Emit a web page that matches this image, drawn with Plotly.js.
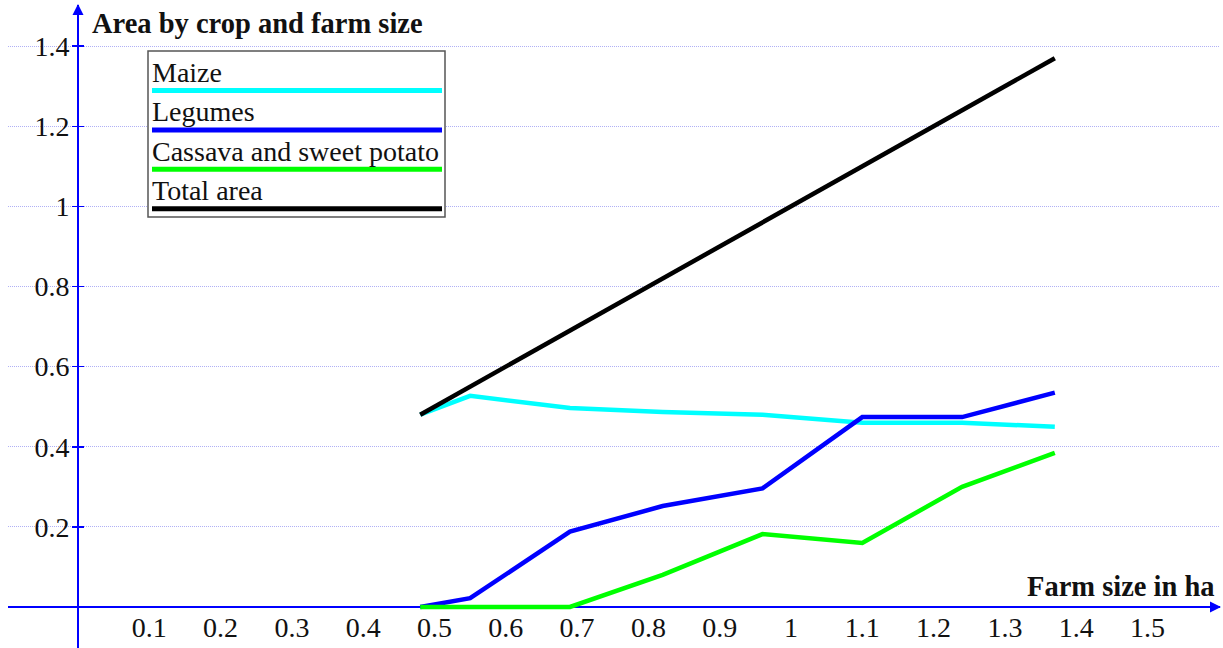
<!DOCTYPE html>
<html>
<head>
<meta charset="utf-8">
<script src="https://cdn.plot.ly/plotly-3.0.1.min.js"></script>
<style>
html,body{margin:0;padding:0;background:#fff;}
#chart{width:1223px;height:648px;}
</style>
</head>
<body>
<div id="chart"></div>
<script>
// ---- data ----
const farmSize = [0.48, 0.55, 0.69, 0.82, 0.96, 1.10, 1.24, 1.37];
const maize    = [0.48, 0.527, 0.497, 0.487, 0.48, 0.46, 0.46, 0.45];
const legumes  = [0.0, 0.022, 0.188, 0.252, 0.296, 0.474, 0.474, 0.535];
const cassava  = [0.0, 0.0, 0.0, 0.08, 0.182, 0.16, 0.30, 0.385];
const total    = [0.48, 0.55, 0.69, 0.82, 0.96, 1.10, 1.24, 1.37];
const seriesNames = ["Maize", "Legumes", "Cassava and sweet potato", "Total area"];
const seriesColors = ["#00ffff", "#0000ff", "#00ff00", "#000000"];
const xTicks = [0.1,0.2,0.3,0.4,0.5,0.6,0.7,0.8,0.9,1,1.1,1.2,1.3,1.4,1.5];
const xTickText = ["0.1","0.2","0.3","0.4","0.5","0.6","0.7","0.8","0.9","1","1.1","1.2","1.3","1.4","1.5"];
const yTicks = [0.2,0.4,0.6,0.8,1,1.2,1.4];
const yTickText = ["0.2","0.4","0.6","0.8","1","1.2","1.4"];
const chartTitle = "Area by crop and farm size";
const xTitle = "Farm size in ha";

// ---- layout geometry ----
const W = 1223, H = 648;
const M = {l: 8, r: 3, t: 5, b: 0};
const PW = W - M.l - M.r, PH = H - M.t - M.b;
const px = p => (p - M.l) / PW;          // page pixel -> paper x
const py = p => 1 - (p - M.t) / PH;      // page pixel -> paper y
const X0 = 78, Y0 = 607, XS = 713, YS = 400.6;
const xRange = [(M.l - X0) / XS, (W - M.r - X0) / XS];
const yRange = [-(H - M.b - Y0) / YS, (Y0 - M.t) / YS];

const FONT = '"Liberation Serif", "Times New Roman", serif';
const AX = '#0000ff';

const ys = [maize, legumes, cassava, total];
const traces = ys.map((v, i) => ({
  type: 'scatter', mode: 'lines', x: farmSize, y: v, name: seriesNames[i],
  line: {color: seriesColors[i], width: 4.5}, showlegend: false, hoverinfo: 'skip'
}));
traces.push({type: 'scatter', mode: 'lines', x: [], y: [], yaxis: 'y2', showlegend: false});

// legend built from shapes + text
const legLeft = 148, legTop = 51, legRight = 445, legBottom = 217;
const shapes = [{
  type: 'rect', xref: 'paper', yref: 'paper',
  x0: px(legLeft), x1: px(legRight), y0: py(legBottom), y1: py(legTop),
  line: {color: '#555555', width: 1.5}, fillcolor: '#ffffff', layer: 'above'
}];
const annotations = [];
seriesNames.forEach((n, i) => {
  const lineY = 90.5 + i * 39.4;
  shapes.push({type: 'line', xref: 'paper', yref: 'paper',
    x0: px(152), x1: px(442), y0: py(lineY), y1: py(lineY),
    line: {color: seriesColors[i], width: 5}, layer: 'above'});
  annotations.push({xref: 'paper', yref: 'paper', x: px(150), y: py(lineY - 18),
    xanchor: 'left', yanchor: 'middle', showarrow: false, text: n,
    font: {family: FONT, size: 28, color: '#111'}});
});
// title
annotations.push({xref: 'paper', yref: 'paper', x: px(90), y: py(23), xanchor: 'left', yanchor: 'middle',
  showarrow: false, text: '<b>' + chartTitle + '</b>', font: {family: FONT, size: 28.5, color: '#111'}});
// x axis title
annotations.push({xref: 'paper', yref: 'paper', x: px(1217), y: py(586), xanchor: 'right', yanchor: 'middle',
  showarrow: false, text: '<b>' + xTitle + '</b>', font: {family: FONT, size: 28.5, color: '#111'}});
// arrow heads
annotations.push({xref: 'paper', yref: 'paper', x: px(1221), y: py(Y0), ax: -14, ay: 0, text: '',
  showarrow: true, arrowhead: 2, arrowsize: 1.1, arrowwidth: 2, arrowcolor: AX, standoff: 0});
annotations.push({xref: 'paper', yref: 'paper', x: px(X0), y: py(4), ax: 0, ay: 14, text: '',
  showarrow: true, arrowhead: 2, arrowsize: 1.1, arrowwidth: 2, arrowcolor: AX, standoff: 0});

const layout = {
  width: W, height: H, margin: M, paper_bgcolor: '#fff', plot_bgcolor: '#fff',
  showlegend: false,
  xaxis: {range: xRange, tickvals: xTicks, ticktext: xTickText, showgrid: false, zeroline: false,
    showline: true, linecolor: AX, linewidth: 2, anchor: 'free', position: py(Y0), layer: 'below traces',
    ticks: '', ticklabelstandoff: -5, tickfont: {family: FONT, size: 28, color: '#111'}, fixedrange: true},
  yaxis: {range: yRange, tickvals: yTicks, ticktext: yTickText, showgrid: true,
    gridcolor: '#b0b0f5', griddash: '1px,1px', gridwidth: 1, zeroline: false,
    showline: true, linecolor: AX, linewidth: 2, anchor: 'free', position: px(X0), layer: 'below traces',
    ticks: 'outside', ticklen: 5, tickwidth: 1.5, tickcolor: AX, ticklabelstandoff: -3,
    tickfont: {family: FONT, size: 28, color: '#111'}, fixedrange: true},
  yaxis2: {overlaying: 'y', matches: 'y', range: yRange, tickvals: yTicks, showticklabels: false,
    showgrid: false, zeroline: false, showline: false, anchor: 'free', position: px(X0), side: 'left',
    ticks: 'inside', ticklen: 5, tickwidth: 1.5, tickcolor: AX},
  shapes: shapes,
  annotations: annotations
};

Plotly.newPlot('chart', traces, layout, {displayModeBar: false, staticPlot: true});
</script>
</body>
</html>
